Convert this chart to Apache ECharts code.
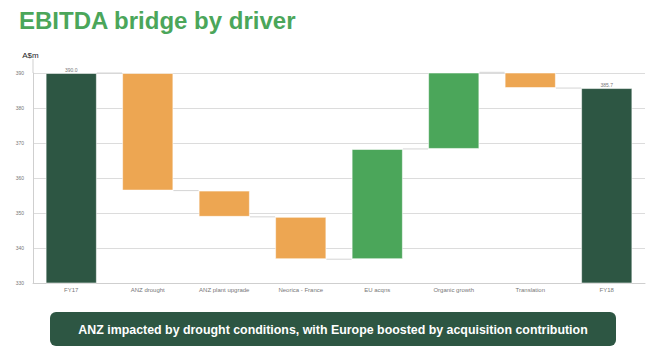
<!DOCTYPE html>
<html>
<head>
<meta charset="utf-8">
<script src="https://cdn.jsdelivr.net/npm/echarts@6/dist/echarts.min.js"></script>
<style>
  html, body { margin: 0; padding: 0; background: #fff; }
  #chart { width: 663px; height: 350px; }
</style>
</head>
<body>
<div id="chart"></div>
<script>
// bridge steps
const categories = ['FY17', 'ANZ drought', 'ANZ plant upgrade', 'Neorica - France', 'EU acqns', 'Organic growth', 'Translation', 'FY18'];
const stepValues = [390.0, -33.6, -7.5, -12.1, 31.5, 21.9, -4.5, 385.7];
const isTotal = [true, false, false, false, false, false, false, true];
const yTicks = [330, 340, 350, 360, 370, 380, 390];

const colors = {
  total: '#2D5643',
  down: '#EDA652',
  up: '#4BA65A',
};

// running levels
const baseData = [];
const barData = [];
const levels = []; // level after each step
let running = 0;
stepValues.forEach((v, i) => {
  if (isTotal[i]) {
    running = v;
    baseData.push(0);
    barData.push({ value: v, itemStyle: { color: colors.total } });
  } else {
    const start = running;
    const end = +(running + v).toFixed(1);
    baseData.push(Math.min(start, end));
    barData.push({ value: Math.abs(v), itemStyle: { color: v < 0 ? colors.down : colors.up } });
    running = end;
  }
  levels.push(running);
});

const connectorData = levels.slice(0, -1).map((lvl, i) => [i, lvl]);

const chart = echarts.init(document.getElementById('chart'), null, { renderer: 'svg' });

const option = {
  animation: false,
  backgroundColor: '#fff',
  textStyle: { fontFamily: 'Liberation Sans, Arial, sans-serif' },
  title: {
    text: 'EBITDA bridge by driver',
    left: 14,
    top: 3,
    textStyle: { color: '#4BA65A', fontSize: 24, fontWeight: 'bold', fontFamily: 'Liberation Sans, Arial, sans-serif' },
  },
  grid: { left: 33, right: 18, top: 73, bottom: 67, containLabel: false },
  xAxis: {
    type: 'category',
    data: categories,
    axisLine: { show: true, lineStyle: { color: '#cfcfcf' } },
    axisTick: { show: false },
    axisLabel: { fontSize: 6, color: '#777', margin: 4, interval: 0 },
  },
  yAxis: {
    type: 'value',
    min: yTicks[0],
    max: yTicks[yTicks.length - 1],
    interval: 10,
    name: 'A$m',
    nameLocation: 'end',
    nameGap: 14,
    nameTextStyle: { fontSize: 8, color: '#222', fontWeight: 'normal', align: 'center', padding: [0, 0, 0, -5] },
    axisLine: { show: true, lineStyle: { color: '#cfcfcf' } },
    axisTick: { show: false },
    axisLabel: { fontSize: 5, color: '#777', margin: 9 },
    splitLine: { show: true, lineStyle: { color: '#dcdcdc', width: 1 } },
  },
  series: [
    {
      type: 'bar',
      stack: 'bridge',
      data: baseData,
      itemStyle: { color: 'transparent' },
      barWidth: '67%',
      silent: true,
    },
    {
      type: 'bar',
      stack: 'bridge',
      data: barData,
      barWidth: '67%',
      itemStyle: { borderColor: 'rgba(255,255,255,0.55)', borderWidth: 1 },
      label: {
        show: true,
        position: 'top',
        distance: 1,
        fontSize: 5,
        color: '#777',
        formatter: (p) => isTotal[p.dataIndex] ? stepValues[p.dataIndex].toFixed(1) : '',
      },
    },
    {
      type: 'custom',
      data: connectorData,
      z: 1,
      silent: true,
      renderItem: (params, api) => {
        const i = api.value(0);
        const lvl = api.value(1);
        const p1 = api.coord([i, lvl]);
        const p2 = api.coord([i + 1, lvl]);
        const band = api.size([1, 0])[0];
        const half = band * 0.67 / 2;
        return {
          type: 'line',
          shape: { x1: p1[0] + half, y1: p1[1], x2: p2[0] - half, y2: p2[1] },
          style: { stroke: '#d4d4d4', lineWidth: 1 },
        };
      },
    },
  ],
  graphic: [
    {
      type: 'line',
      shape: { x1: 33, y1: 59, x2: 33, y2: 73 },
      style: { stroke: '#cfcfcf', lineWidth: 1 },
    },
    {
      type: 'group',
      left: 50,
      top: 312,
      children: [
        {
          type: 'rect',
          shape: { x: 0, y: 0, width: 566, height: 34, r: 6 },
          style: { fill: '#2D5643' },
        },
        {
          type: 'text',
          x: 283,
          y: 18,
          style: {
            text: 'ANZ impacted by drought conditions, with Europe boosted by acquisition contribution',
            fill: '#fff',
            font: 'bold 12.4px "Liberation Sans", Arial, sans-serif',
            align: 'center',
            verticalAlign: 'middle',
          },
        },
      ],
    },
  ],
};

chart.setOption(option);
</script>
</body>
</html>
